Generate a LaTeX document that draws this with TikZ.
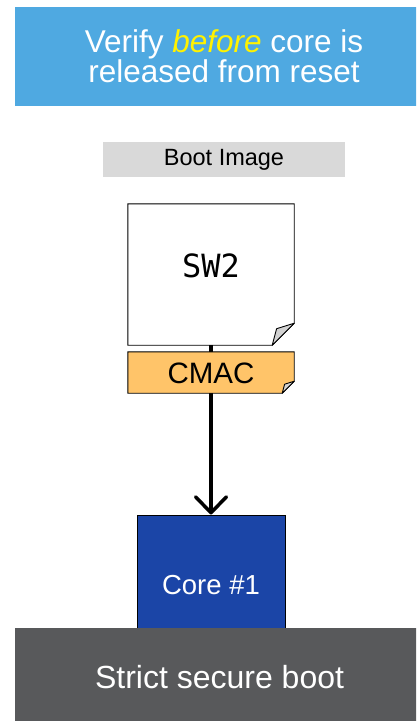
\documentclass[tikz,border=0pt]{standalone}
\usepackage{fontspec}
\setmainfont{Liberation Sans}
\newfontfamily\codefont{DejaVu Sans Mono}
\usepackage{tikz}
\usetikzlibrary{arrows.meta,calc}

\definecolor{bannerblue}{HTML}{4FA9E1}
\definecolor{coreblue}{HTML}{1B45A7}
\definecolor{bargray}{HTML}{58595B}
\definecolor{labelgray}{HTML}{D9D9D9}
\definecolor{macorange}{HTML}{FFC469}
\definecolor{foldgray}{HTML}{D2D2D2}

\tikzset{
	bar/.style = { fill=#1, inner sep=0, minimum width=418pt, minimum height=99pt,
		text=white, align=center },
	page/.style = { inner sep=0, minimum width=166pt },
}

% outline of a sheet with its lower right corner turned up
\newcommand{\sheet}[3]{
	\draw [ line width=0.9pt, fill=#3 ] (#1.north west) -- (#1.north east)
		-- ($ (#1.south east) + (0,-#2) $) -- ($ (#1.south east) + (-#2,0) $)
		-- (#1.south west) -- cycle;
	\draw [ line width=0.9pt, fill=foldgray, line join=round ] ($ (#1.south east) + (0,-#2) $)
		-- ($ (#1.south east) + (-0.8*#2,-0.75*#2) $) -- ($ (#1.south east) + (-#2,0) $) -- cycle;
}

\begin{document}
\begin{tikzpicture}[ x=1pt, y=-1pt ]
	\useasboundingbox (0,0) rectangle (416,721);
	\clip (0,0) rectangle (416,721);

	\node [ bar=bannerblue ] (banner) at (224,56)
		{ \fontsize{31.5}{38.5}\selectfont Verify \textcolor{yellow}{\itshape before} core is \\
		  \fontsize{31.5}{38.5}\selectfont released from reset };

	\node [ fill=labelgray, inner sep=0, minimum width=242pt, minimum height=35pt ] (label) at (224,159.5)
		{ \fontsize{23.5}{27}\selectfont Boot Image };

	\node [ page, minimum height=141pt ] (sw2) at (211,274.5) {};
	\sheet{sw2}{22}{white}
	\node (sw2text) at ([yshift=9pt] sw2.center) { \codefont\fontsize{32}{36}\selectfont SW2 };

	\node [ draw, line width=1pt, fill=coreblue, text=white, inner sep=0,
		minimum width=148pt, minimum height=140pt ] (core) at (211,585)
		{ \fontsize{27.5}{31}\selectfont Core \#1 };

	\draw [ line width=3.5pt, -{Straight Barb[length=16pt,width=31pt,round]} ] (sw2.south) to (core.north);

	\node [ page, minimum height=41pt ] (cmac) at (211,372.5) {};
	\sheet{cmac}{12}{macorange}
	\node (cmactext) at ([yshift=-1pt] cmac.center) { \fontsize{29.5}{33}\selectfont CMAC };

	\node [ bar=bargray ] (mode) at (224,677.5)
		{ \fontsize{32}{35}\selectfont Strict secure boot };
\end{tikzpicture}
\end{document}
